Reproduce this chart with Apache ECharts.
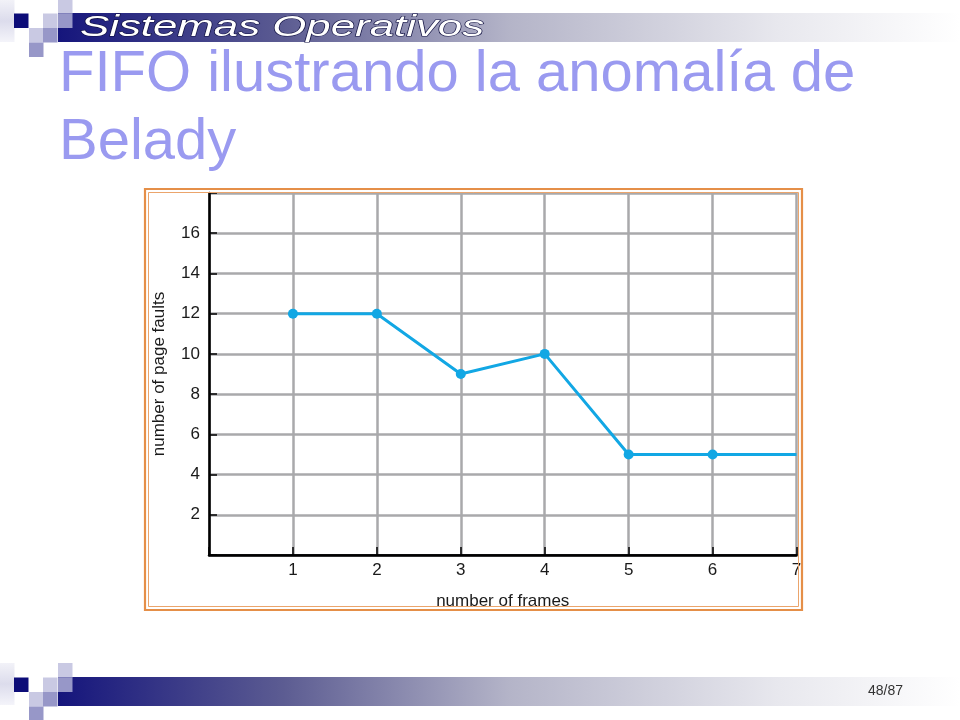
<!DOCTYPE html>
<html>
<head>
<meta charset="utf-8">
<script src="https://cdn.jsdelivr.net/npm/echarts@6/dist/echarts.min.js"></script>
<style>
html,body{margin:0;padding:0;background:#fff;}
#c{width:960px;height:720px;}
</style>
</head>
<body>
<div id="c"></div>
<script>
// Data
const frames = [1, 2, 3, 4, 5, 6, 7];
const pageFaults = [12, 12, 9, 10, 5, 5, 5];
const yTicks = [2, 4, 6, 8, 10, 12, 14, 16];
const xTicks = [1, 2, 3, 4, 5, 6, 7];
const titleLines = ['FIFO ilustrando la anomalía de', 'Belady'];
const headerText = 'Sistemas Operativos';
const pageText = '48/87';

const chart = echarts.init(document.getElementById('c'));

const NAVY = '#0c0c78', LIGHT = '#c9c9e3', MED = '#9797c8';

function squares(y0) {
  const s = 14.5;
  const list = [
    [58, y0, LIGHT],
    [14, y0 + s, NAVY], [43, y0 + s, LIGHT], [58, y0 + s, MED],
    [29, y0 + 2 * s, LIGHT], [43, y0 + 2 * s, MED],
    [29, y0 + 3 * s, MED]
  ];
  return list.map(([x, y, c]) => ({
    type: 'rect', shape: { x: x, y: y, width: s, height: s },
    style: { fill: c }, z: 10
  }));
}

function band(y) {
  return {
    type: 'rect', shape: { x: 58, y: y, width: 902, height: 29 },
    style: {
      fill: new echarts.graphic.LinearGradient(0, 0, 1, 0, [
        { offset: 0, color: '#15157c' },
        { offset: 0.25, color: '#5c5c92' },
        { offset: 0.5, color: '#b4b4c8' },
        { offset: 0.8, color: '#e8e8ee' },
        { offset: 1, color: '#ffffff' }
      ])
    }, z: 5
  };
}

function fadedCol(y, h) {
  return {
    type: 'rect', shape: { x: 0, y: y, width: 14.5, height: h },
    style: {
      fill: new echarts.graphic.LinearGradient(0, 0, 0, 1, [
        { offset: 0, color: '#f2f2f8' },
        { offset: 0.5, color: '#dcdcec' },
        { offset: 1, color: '#f4f4fa' }
      ])
    }, z: 9
  };
}

const graphics = [
  band(13), band(677),
  fadedCol(0, 42), fadedCol(663, 42),
  ...squares(-1), ...squares(663),
  {
    type: 'text', x: 80, y: 13, scaleX: 1.46, z: 20,
    style: {
      text: headerText, fill: '#ffffff', stroke: '#101040', lineWidth: 1.1,
      font: 'italic 30px "Liberation Sans", Arial, sans-serif',
      align: 'left', verticalAlign: 'top'
    }
  },
  {
    type: 'text', x: 59, y: 46, z: 20,
    style: {
      text: titleLines[0], fill: '#9a9af0',
      font: '58px "Liberation Sans", Arial, sans-serif',
      align: 'left', verticalAlign: 'top'
    }
  },
  {
    type: 'text', x: 59, y: 114, z: 20,
    style: {
      text: titleLines[1], fill: '#9a9af0',
      font: '58px "Liberation Sans", Arial, sans-serif',
      align: 'left', verticalAlign: 'top'
    }
  },
  {
    type: 'text', x: 903, y: 691, z: 20,
    style: {
      text: pageText, fill: '#333333',
      font: '14px "Liberation Sans Narrow", "Liberation Sans", sans-serif',
      align: 'right', verticalAlign: 'middle'
    }
  },
  {
    type: 'rect', shape: { x: 145, y: 189, width: 657, height: 421 },
    style: { fill: 'none', stroke: '#e58f48', lineWidth: 2.2 }, z: 1
  },
  {
    type: 'rect', shape: { x: 148.5, y: 192.5, width: 650, height: 414 },
    style: { fill: 'none', stroke: '#eba56c', lineWidth: 1 }, z: 1
  }
];

const labelFont = { fontFamily: '"Liberation Sans", Arial, sans-serif', fontSize: 17, color: '#1a1a1a' };

chart.setOption({
  animation: false,
  backgroundColor: '#ffffff',
  graphic: graphics,
  grid: { left: 209, right: 163.5, top: 193, bottom: 165 },
  xAxis: [{
    type: 'value', min: 0, max: 7, interval: 1,
    name: 'number of frames', nameLocation: 'middle', nameGap: 38,
    nameTextStyle: labelFont,
    axisLine: { show: true, lineStyle: { color: '#000', width: 2.5 } },
    axisTick: { show: true, inside: true, length: 8, lineStyle: { color: '#000', width: 1.5 } },
    axisLabel: Object.assign({ margin: 7, formatter: v => (xTicks.indexOf(v) >= 0 ? String(v) : '') }, labelFont),
    splitLine: { show: true, lineStyle: { color: '#a9a9ab', width: 2.5 } }
  }, {
    type: 'value', min: 0, max: 7, position: 'top',
    axisLine: { show: true, lineStyle: { color: '#000', width: 1.5 } },
    axisTick: { show: false }, axisLabel: { show: false }, splitLine: { show: false }
  }],
  yAxis: [{
    type: 'value', min: 0, max: 18, interval: 2,
    name: 'number of page faults', nameLocation: 'middle', nameGap: 41,
    nameTextStyle: labelFont,
    axisLine: { show: true, lineStyle: { color: '#000', width: 2.5 } },
    axisTick: { show: true, inside: true, length: 8, lineStyle: { color: '#000', width: 1.5 } },
    axisLabel: Object.assign({ margin: 9, formatter: v => (yTicks.indexOf(v) >= 0 ? String(v) : '') }, labelFont),
    splitLine: { show: true, lineStyle: { color: '#a9a9ab', width: 2.5 } }
  }, {
    type: 'value', min: 0, max: 18, position: 'right',
    axisLine: { show: true, lineStyle: { color: '#000', width: 1.2 } },
    axisTick: { show: false }, axisLabel: { show: false }, splitLine: { show: false }
  }],
  series: [{
    type: 'line',
    data: frames.map((f, i) => i === frames.length - 1
      ? { value: [f, pageFaults[i]], symbolSize: 0 }
      : [f, pageFaults[i]]),
    symbol: 'circle', symbolSize: 10,
    itemStyle: { color: '#12a7e4' },
    lineStyle: { color: '#12a7e4', width: 3 },
    z: 5
  }]
});
</script>
</body>
</html>
